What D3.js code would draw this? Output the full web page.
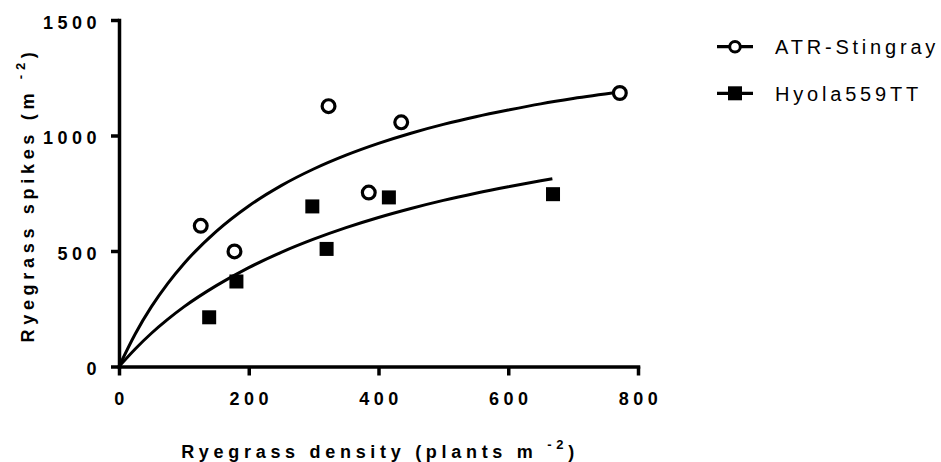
<!DOCTYPE html>
<html>
<head>
<meta charset="utf-8">
<script src="https://cdn.jsdelivr.net/npm/d3@7"></script>
<style>
  body { margin: 0; background: #fff; }
  svg { display: block; font-family: "Liberation Sans", Arial, sans-serif; }
  .tick text { font-weight: bold; font-size: 18px; letter-spacing: 4.5px; fill: #000; }
  .axis-title { font-weight: bold; font-size: 18px; letter-spacing: 4.7px; fill: #000; }
  .legend text { font-size: 20px; letter-spacing: 3.8px; fill: #000; }
</style>
</head>
<body>
<div id="chart"></div>
<script>
var atrDensity = [126, 178, 323, 385, 435, 772];
var atrSpikes = [609, 498, 1127, 753, 1057, 1184];
var hyolaDensity = [139, 181, 298, 320, 416, 669];
var hyolaSpikes = [213, 368, 693, 509, 732, 746];

// fitted curves
var atrFitDensity = [0, 25, 50, 75, 100, 150, 200, 250, 300, 350, 400, 450, 500, 550, 600, 650, 700, 772];
var atrFitSpikes = [0, 141, 259, 359, 445, 585, 695, 783, 855, 915, 966, 1010, 1048, 1081, 1110, 1137, 1160, 1188];
var hyolaFitDensity = [0, 25, 50, 75, 100, 150, 200, 250, 300, 350, 400, 450, 500, 550, 600, 650, 668];
var hyolaFitSpikes = [0, 76, 144, 204, 258, 350, 428, 494, 551, 601, 645, 684, 719, 750, 778, 804, 813];

var xTicks = [0, 200, 400, 600, 800];
var yTicks = [0, 500, 1000, 1500];
var seriesNames = ['ATR-Stingray', 'Hyola559TT'];

// svg area
var svgWidth = 941;
var svgHeight = 462;

var svg = d3.select('#chart')
  .append('svg')
  .attr('width', svgWidth)
  .attr('height', svgHeight);

// scales
var xScale = d3.scaleLinear().domain([0, 800]).range([119, 638]);
var yScale = d3.scaleLinear().domain([0, 1500]).range([366.5, 20]);

// axes
var xAxis = svg.append('g')
  .attr('transform', `translate(0, ${yScale(0)})`)
  .call(d3.axisBottom(xScale).tickValues(xTicks).tickFormat(d3.format('d'))
    .tickSize(9).tickSizeOuter(0).tickPadding(17));

var yAxis = svg.append('g')
  .attr('transform', `translate(${xScale(0)}, 0)`)
  .call(d3.axisLeft(yScale).tickValues(yTicks).tickFormat(d3.format('d'))
    .tickSize(8).tickSizeOuter(0).tickPadding(10));

[xAxis, yAxis].forEach(function(ax) {
  ax.select('.domain').attr('stroke', '#000').attr('stroke-width', 3.5).attr('stroke-linecap', 'square');
  ax.selectAll('.tick line').attr('stroke', '#000').attr('stroke-width', 3.5);
});
xAxis.selectAll('.tick text').attr('dx', '2px');
yAxis.selectAll('.tick text').attr('dy', '0.47em');

// curves
var line = d3.line()
  .x(d => xScale(d[0]))
  .y(d => yScale(d[1]))
  .curve(d3.curveMonotoneX);

var atrFit = d3.zip(atrFitDensity, atrFitSpikes);
var hyolaFit = d3.zip(hyolaFitDensity, hyolaFitSpikes);

svg.append('path')
  .datum(atrFit)
  .attr('d', line)
  .attr('fill', 'none')
  .attr('stroke', '#000')
  .attr('stroke-width', 3);

svg.append('path')
  .datum(hyolaFit)
  .attr('d', line)
  .attr('fill', 'none')
  .attr('stroke', '#000')
  .attr('stroke-width', 3);

// points
svg.selectAll('.atr')
  .data(d3.zip(atrDensity, atrSpikes))
  .enter()
  .append('circle')
  .attr('class', 'atr')
  .attr('cx', d => xScale(d[0]))
  .attr('cy', d => yScale(d[1]))
  .attr('r', 6.4)
  .attr('fill', '#fff')
  .attr('stroke', '#000')
  .attr('stroke-width', 3.2);

svg.selectAll('.hyola')
  .data(d3.zip(hyolaDensity, hyolaSpikes))
  .enter()
  .append('rect')
  .attr('class', 'hyola')
  .attr('x', d => xScale(d[0]) - 7)
  .attr('y', d => yScale(d[1]) - 7)
  .attr('width', 14)
  .attr('height', 14)
  .attr('fill', '#000');

// axis titles
var xTitle = svg.append('text')
  .attr('class', 'axis-title')
  .attr('x', 380)
  .attr('y', 458)
  .attr('text-anchor', 'middle');
xTitle.append('tspan').text('Ryegrass density (plants m ');
xTitle.append('tspan').attr('dy', -9).attr('font-size', '13px').text('-2');
xTitle.append('tspan').attr('dy', 9).text(')');

var yTitle = svg.append('text')
  .attr('class', 'axis-title')
  .attr('transform', 'translate(34, 195) rotate(-90)')
  .attr('text-anchor', 'middle');
yTitle.append('tspan').text('Ryegrass spikes (m ');
yTitle.append('tspan').attr('dy', -9).attr('font-size', '13px').text('-2');
yTitle.append('tspan').attr('dy', 9).text(')');

// legend
var legend = svg.append('g').attr('class', 'legend');
var legendY = [46.7, 93.3];

seriesNames.forEach(function(name, i) {
  var g = legend.append('g').attr('transform', `translate(0, ${legendY[i]})`);
  g.append('line')
    .attr('x1', 717).attr('x2', 753)
    .attr('stroke', '#000').attr('stroke-width', 3.2);
  if (i === 0) {
    g.append('circle')
      .attr('cx', 735).attr('r', 5.3)
      .attr('fill', '#fff').attr('stroke', '#000').attr('stroke-width', 3);
  } else {
    g.append('rect')
      .attr('x', 728).attr('y', -7).attr('width', 14).attr('height', 14)
      .attr('fill', '#000');
  }
  g.append('text')
    .attr('x', 775)
    .attr('dy', '0.36em')
    .text(name);
});
</script>
</body>
</html>
